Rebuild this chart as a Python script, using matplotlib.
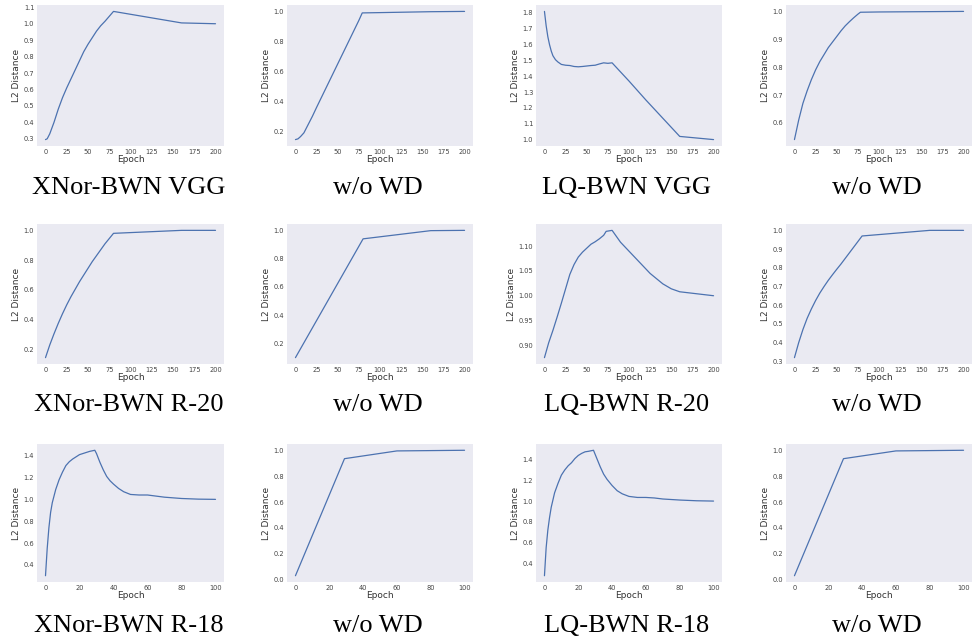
import matplotlib
matplotlib.use("Agg")
import matplotlib.pyplot as plt
import seaborn as sns

sns.set_style("dark")
plt.rcParams['font.family'] = ['DejaVu Sans']

# ---------------- data ----------------
# Row 1: VGG (200 epochs)
xnor_vgg_ep = [0, 2, 5, 10, 15, 20, 25, 30, 35, 40, 45, 50, 55, 60, 65, 70, 75, 80, 120, 160, 200]
xnor_vgg_l2 = [0.295, 0.30, 0.33, 0.40, 0.48, 0.55, 0.61, 0.665, 0.72, 0.775, 0.83, 0.875, 0.915, 0.955,
               0.988, 1.015, 1.045, 1.075, 1.04, 1.005, 1.0]

xnor_vgg_wowd_ep = [0, 3, 6, 10, 15, 20, 25, 50, 75, 79, 100, 160, 200]
xnor_vgg_wowd_l2 = [0.145, 0.15, 0.165, 0.19, 0.245, 0.30, 0.36, 0.65, 0.94, 0.99, 0.992, 0.998, 1.0]

lq_vgg_ep = [0, 2, 4, 6, 8, 10, 13, 16, 20, 25, 30, 35, 40, 45, 50, 55, 60, 65, 70, 75, 80, 100, 120, 160, 200]
lq_vgg_l2 = [1.81, 1.72, 1.65, 1.60, 1.56, 1.53, 1.505, 1.49, 1.475, 1.47, 1.468, 1.462, 1.46, 1.462,
             1.465, 1.468, 1.47, 1.478, 1.485, 1.482, 1.485, 1.37, 1.25, 1.02, 1.0]

lq_vgg_wowd_ep = [0, 5, 10, 15, 20, 25, 30, 35, 40, 45, 50, 55, 60, 65, 70, 75, 78, 100, 200]
lq_vgg_wowd_l2 = [0.54, 0.61, 0.67, 0.715, 0.755, 0.79, 0.82, 0.845, 0.87, 0.89, 0.91, 0.93, 0.948,
                  0.963, 0.977, 0.99, 0.997, 0.998, 1.0]

# Row 2: ResNet-20 (200 epochs)
xnor_r20_ep = [0, 5, 10, 15, 20, 25, 30, 35, 40, 45, 50, 55, 60, 65, 70, 75, 80, 120, 160, 200]
xnor_r20_l2 = [0.145, 0.23, 0.305, 0.375, 0.44, 0.50, 0.555, 0.605, 0.655, 0.70, 0.745, 0.79, 0.83,
               0.87, 0.91, 0.945, 0.98, 0.99, 1.0, 1.0]

xnor_r20_wowd_ep = [0, 80, 160, 200]
xnor_r20_wowd_l2 = [0.10, 0.94, 0.998, 1.0]

lq_r20_ep = [0, 5, 10, 15, 20, 25, 30, 35, 40, 45, 50, 55, 60, 65, 70, 73, 80, 90, 100, 110, 125, 140, 150, 160, 200]
lq_r20_l2 = [0.875, 0.905, 0.93, 0.957, 0.985, 1.014, 1.043, 1.063, 1.078, 1.088, 1.096, 1.104, 1.109,
             1.115, 1.122, 1.13, 1.132, 1.108, 1.09, 1.072, 1.045, 1.024, 1.014, 1.008, 1.0]

lq_r20_wowd_ep = [0, 5, 10, 15, 20, 25, 30, 35, 40, 45, 50, 55, 60, 65, 70, 75, 80, 120, 160, 200]
lq_r20_wowd_l2 = [0.32, 0.40, 0.47, 0.53, 0.58, 0.625, 0.665, 0.70, 0.733, 0.763, 0.792, 0.82, 0.85,
                  0.88, 0.91, 0.94, 0.97, 0.985, 1.0, 1.0]

# Row 3: ResNet-18 (100 epochs)
xnor_r18_ep = [0, 1, 2, 3, 4, 5, 6, 8, 10, 12, 14, 16, 18, 20, 22, 24, 26, 29, 30, 32, 34, 36, 38, 40,
               43, 46, 50, 55, 60, 65, 70, 80, 90, 100]
xnor_r18_l2 = [0.30, 0.55, 0.74, 0.88, 0.97, 1.03, 1.09, 1.18, 1.25, 1.31, 1.345, 1.37, 1.39, 1.41,
               1.42, 1.43, 1.44, 1.45, 1.42, 1.34, 1.27, 1.21, 1.17, 1.14, 1.10, 1.07, 1.045, 1.04,
               1.04, 1.03, 1.02, 1.008, 1.002, 1.0]

xnor_r18_wowd_ep = [0, 29, 60, 100]
xnor_r18_wowd_l2 = [0.03, 0.935, 0.995, 1.0]

lq_r18_ep = [0, 1, 2, 3, 4, 5, 6, 8, 10, 12, 14, 16, 18, 20, 22, 24, 26, 29, 31, 33, 35, 37, 40, 43,
             46, 50, 55, 60, 65, 70, 80, 90, 100]
lq_r18_l2 = [0.28, 0.55, 0.72, 0.84, 0.94, 1.01, 1.08, 1.17, 1.25, 1.30, 1.34, 1.37, 1.41, 1.44,
             1.46, 1.475, 1.48, 1.49, 1.41, 1.33, 1.26, 1.21, 1.15, 1.10, 1.07, 1.045, 1.035, 1.035,
             1.03, 1.02, 1.01, 1.003, 1.0]

lq_r18_wowd_ep = [0, 29, 60, 100]
lq_r18_wowd_l2 = [0.03, 0.935, 0.995, 1.0]

# tick labels
xticks_200 = [0, 25, 50, 75, 100, 125, 150, 175, 200]
xticks_100 = [0, 20, 40, 60, 80, 100]

captions = [
    ["XNor-BWN VGG", "w/o WD", "LQ-BWN VGG", "w/o WD"],
    ["XNor-BWN R-20", "w/o WD", "LQ-BWN R-20", "w/o WD"],
    ["XNor-BWN R-18", "w/o WD", "LQ-BWN R-18", "w/o WD"],
]

series = [
    [(xnor_vgg_ep, xnor_vgg_l2), (xnor_vgg_wowd_ep, xnor_vgg_wowd_l2),
     (lq_vgg_ep, lq_vgg_l2), (lq_vgg_wowd_ep, lq_vgg_wowd_l2)],
    [(xnor_r20_ep, xnor_r20_l2), (xnor_r20_wowd_ep, xnor_r20_wowd_l2),
     (lq_r20_ep, lq_r20_l2), (lq_r20_wowd_ep, lq_r20_wowd_l2)],
    [(xnor_r18_ep, xnor_r18_l2), (xnor_r18_wowd_ep, xnor_r18_wowd_l2),
     (lq_r18_ep, lq_r18_l2), (lq_r18_wowd_ep, lq_r18_wowd_l2)],
]

yticks = [
    [[0.3, 0.4, 0.5, 0.6, 0.7, 0.8, 0.9, 1.0, 1.1], [0.2, 0.4, 0.6, 0.8, 1.0],
     [1.0, 1.1, 1.2, 1.3, 1.4, 1.5, 1.6, 1.7, 1.8], [0.6, 0.7, 0.8, 0.9, 1.0]],
    [[0.2, 0.4, 0.6, 0.8, 1.0], [0.2, 0.4, 0.6, 0.8, 1.0],
     [0.90, 0.95, 1.00, 1.05, 1.10], [0.3, 0.4, 0.5, 0.6, 0.7, 0.8, 0.9, 1.0]],
    [[0.4, 0.6, 0.8, 1.0, 1.2, 1.4], [0.0, 0.2, 0.4, 0.6, 0.8, 1.0],
     [0.4, 0.6, 0.8, 1.0, 1.2, 1.4], [0.0, 0.2, 0.4, 0.6, 0.8, 1.0]],
]
ytick_fmt = [["%.1f"] * 4, ["%.1f", "%.1f", "%.2f", "%.1f"], ["%.1f"] * 4]

# ---------------- layout ----------------
W, H = 974, 641
fig = plt.figure(figsize=(W / 100, H / 100), dpi=100)

col_left = [37, 287, 536, 786]
col_width = [187, 186, 186, 186]
row_top = [5, 224, 444]
row_height = [141, 140, 138]
cap_y = [188, 405, 626]

line_color = "#4c72b0"

for r in range(3):
    for c in range(4):
        l = col_left[c] / W
        b = 1 - (row_top[r] + row_height[r]) / H
        ax = fig.add_axes([l, b, col_width[c] / W, row_height[r] / H])
        x, y = series[r][c]
        ax.plot(x, y, color=line_color, lw=0.9)
        ax.set_xticks(xticks_100 if r == 2 else xticks_200)
        ax.set_yticks(yticks[r][c])
        ax.set_yticklabels([ytick_fmt[r][c] % v for v in yticks[r][c]])
        ax.tick_params(axis="both", labelsize=4.8, length=0, pad=2, colors="#444444")
        ax.set_xlabel("Epoch", fontsize=6.5, labelpad=0.5, color="#333333")
        ax.set_ylabel("L2 Distance", fontsize=6.5, labelpad=2, color="#333333")
        for s in ax.spines.values():
            s.set_visible(False)
        cx = (col_left[c] + col_width[c] / 2 - 2) / W
        fig.text(cx, 1 - cap_y[r] / H, captions[r][c], ha="center", va="center",
                 fontsize=19, family="Liberation Serif", color="black")

fig.savefig("out.png", dpi=100)
